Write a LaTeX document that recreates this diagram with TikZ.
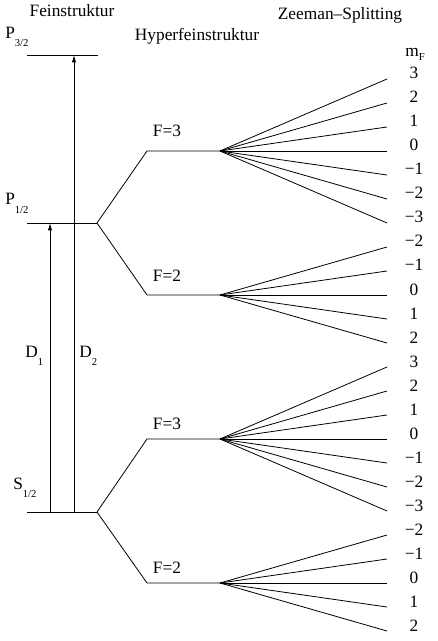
\documentclass[tikz,border=0pt]{standalone}
\usepackage{fontspec}
\setmainfont{Liberation Serif}
\usetikzlibrary{arrows.meta, positioning}

\newcommand{\lowsub}[2][-6pt]{\raisebox{#1}{\fontsize{8}{9}\selectfont #2}}

\begin{document}
\begin{tikzpicture}[
        x=0.75pt, y=-0.75pt,
        level/.style={line width=0.65pt},
        fan/.style={line width=0.6pt},
        heading/.style={anchor=base, inner sep=0pt, font=\fontsize{13}{15}\selectfont},
        term/.style={anchor=base west, inner sep=0pt, font=\fontsize{13}{15}\selectfont},
        mval/.style={anchor=base, inner sep=0pt, font=\fontsize{13}{15}\selectfont},
        trans/.style={-{Latex[length=5.5pt,width=3.2pt]}, line width=0.65pt}
    ]
        \useasboundingbox (0,0) rectangle (437,641);

        % Headings
        \node (fein) [heading] at (72,17) {Feinstruktur};
        \node (hyper) [heading] at (197,41) {Hyperfeinstruktur};
        \node (zeeman) [heading] at (340,20) {Zeeman--Splitting};
        \node (mF) [term] at (405,57) {m\lowsub[-3pt]{F}};

        % Fine structure levels
        \coordinate (P32w) at (27,55);   \coordinate (P32e) at (98,55);
        \coordinate (P12w) at (27,223);  \coordinate (P12e) at (97,223);
        \coordinate (S12w) at (27,512);  \coordinate (S12e) at (97,512);
        \draw [level] (P32w) -- (P32e);
        \draw [level] (P12w) -- (P12e);
        \draw [level] (S12w) -- (S12e);
        \node (P32) [term] at (5,39) {P\lowsub{3/2}};
        \node (P12) [term] at (5,205) {P\lowsub{1/2}};
        \node (S12) [term] at (13,489) {S\lowsub{1/2}};

        % D lines
        \coordinate (D1s) at (50,512);  \coordinate (D1t) at (50,223);
        \coordinate (D2s) at (74,512);  \coordinate (D2t) at (74,55);
        \draw [trans] (D1s) -- (D1t);
        \draw [trans] (D2s) -- (D2t);
        \node (D1) [term] at (25,357) {D\lowsub{1}};
        \node (D2) [term] at (79,357) {D\lowsub{2}};

        % Hyperfine levels
        \coordinate (F3aw) at (147,151);  \coordinate (F3ae) at (220,151);
        \coordinate (F2aw) at (147,295);  \coordinate (F2ae) at (220,295);
        \coordinate (F3bw) at (147,439);  \coordinate (F3be) at (220,439);
        \coordinate (F2bw) at (147,583);  \coordinate (F2be) at (220,583);
        \draw [fan] (P12e) -- (F3aw) -- (F3ae);
        \draw [fan] (P12e) -- (F2aw) -- (F2ae);
        \draw [fan] (S12e) -- (F3bw) -- (F3be);
        \draw [fan] (S12e) -- (F2bw) -- (F2be);
        \node (F3a) [heading] at (167,137) {F=3};
        \node (F2a) [heading] at (167,281) {F=2};
        \node (F3b) [heading] at (167,429) {F=3};
        \node (F2b) [heading] at (167,573) {F=2};

        % Zeeman splitting
        \foreach \m [count=\i] in {3,2,1,0,−1,−2,−3} {
            \coordinate (Z3a\i) at (387,{151+24*(\i-4)});
            \draw [fan] (F3ae) -- (Z3a\i);
            \node (m3a\i) [mval] at (414,{151+24*(\i-4)}) {\m};
        }
        \foreach \m [count=\i] in {−2,−1,0,1,2} {
            \coordinate (Z2a\i) at (387,{295+24*(\i-3)});
            \draw [fan] (F2ae) -- (Z2a\i);
            \node (m2a\i) [mval] at (414,{295+24*(\i-3)}) {\m};
        }
        \foreach \m [count=\i] in {3,2,1,0,−1,−2,−3} {
            \coordinate (Z3b\i) at (387,{439+24*(\i-4)});
            \draw [fan] (F3be) -- (Z3b\i);
            \node (m3b\i) [mval] at (414,{439+24*(\i-4)}) {\m};
        }
        \foreach \m [count=\i] in {−2,−1,0,1,2} {
            \coordinate (Z2b\i) at (387,{583+24*(\i-3)});
            \draw [fan] (F2be) -- (Z2b\i);
            \node (m2b\i) [mval] at (414,{583+24*(\i-3)}) {\m};
        }
    \end{tikzpicture}
\end{document}
